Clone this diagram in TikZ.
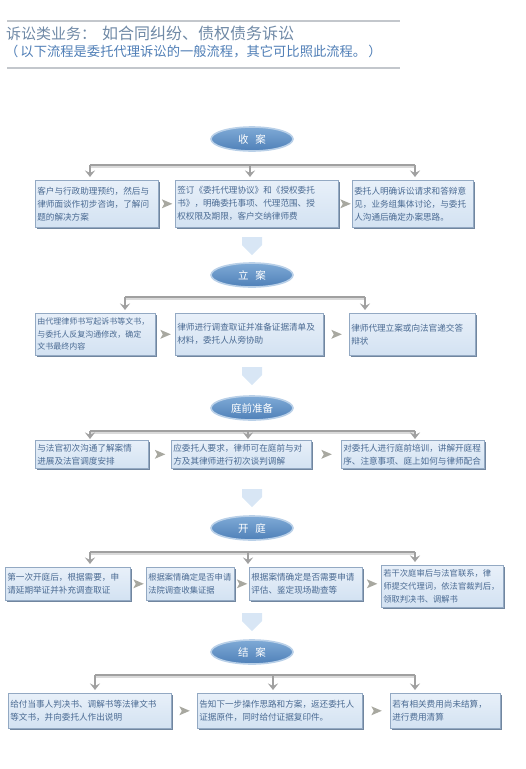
\documentclass[tikz,border=0pt]{standalone}
\usepackage{fontspec}
\setmainfont{Noto Sans CJK SC}
\usetikzlibrary{arrows.meta,shapes.geometric,shapes.arrows,calc,shadows}
\definecolor{boxtop}{HTML}{E8F0F9}
\definecolor{boxbot}{HTML}{D3E2F2}
\definecolor{boxline}{HTML}{93A9C3}
\definecolor{boxshadow}{HTML}{71869F}
\definecolor{boxtext}{HTML}{4A6A92}
\definecolor{elltop}{HTML}{7FAAD6}
\definecolor{ellbot}{HTML}{4F80B8}
\definecolor{ellring}{HTML}{B9D0E8}
\definecolor{conn}{HTML}{A0A0A0}
\definecolor{connshade}{HTML}{DADADA}
\definecolor{sidearrow}{HTML}{A8A8A0}
\definecolor{flowcol}{HTML}{D8E6F5}
\definecolor{titlecol}{HTML}{6F89A6}
\definecolor{subcol}{HTML}{4F7EB6}
\definecolor{rulecol}{HTML}{C3C7CC}
\newcommand\rarrowmark[1]{\fill[sidearrow] ($(#1)+(-5,-4.5)$) -- ($(#1)+(5.5,0)$) -- ($(#1)+(-5,4.5)$) -- ($(#1)+(-2.5,0)$) -- cycle;}
\tikzset{
  infobox/.style={rectangle, draw=boxline, line width=0.6pt, top color=boxtop, bottom color=boxbot,
    text=boxtext, align=left, inner xsep=2pt, inner ysep=2pt, anchor=north west,
    font=\fontsize{8.6}{13}\selectfont,
    drop shadow={shadow xshift=1.6pt, shadow yshift=-1.6pt, fill=boxshadow, opacity=1}},
  stage/.style={ellipse, minimum width=82pt, minimum height=24pt, inner sep=0pt,
    top color=elltop, bottom color=ellbot, draw=ellring, line width=1.6pt,
    text=white, font=\fontsize{10.5}{12}\selectfont},
  bar/.style={line width=1.8pt, draw=conn},
  barshade/.style={line width=1.4pt, draw=connshade},
  drop/.style={line width=2pt, draw=conn, -{Stealth[length=6.5pt, width=10pt, inset=2.5pt]}},
  flowarrow/.style={single arrow, draw=none, fill=flowcol, rotate=-90,
    minimum height=18pt, minimum width=20pt, single arrow head extend=0pt, inner sep=0pt},
  rulestyle/.style={line width=1.2pt, draw=rulecol}
}
\begin{document}
\begin{tikzpicture}[x=1pt,y=-1pt]
\useasboundingbox (0,0) rectangle (526,769);
% header
\coordinate (h1l) at (7,21); \coordinate (h1r) at (400,21);
\coordinate (h2l) at (7,68); \coordinate (h2r) at (400,68);
\draw[rulestyle] (h1l) -- (h1r);
\draw[rulestyle] (h2l) -- (h2r);
\node[anchor=west, inner sep=0pt, text=titlecol] (title) at (6,33)
  {\fontsize{15}{18}\selectfont 诉讼类业务：\hspace{6pt}\fontsize{16}{18}\selectfont 如合同纠纷、债权债务诉讼};
\node[anchor=west, inner sep=0pt, text=subcol] (subtitle) at (5,52)
  {\fontsize{13.3}{15}\selectfont （\hspace{2pt}以下流程是委托代理诉讼的一般流程，其它可比照此流程。\hspace{2pt}）};

% ===== stage 1
\node[stage] (s1) at (252,139) {收\hspace{7pt}案};
\node[infobox, minimum width=123pt, text width=119pt, minimum height=47pt] (b11) at (35,180)
  {客户与行政助理预约，然后与\\律师面谈作初步咨询，了解问\\题的解决方案};
\node[infobox, minimum width=163pt, text width=159pt, minimum height=47pt] (b12) at (175,180)
  {签订《委托代理协议》和《授权委托\\书》，明确委托事项、代理范围、授\\权权限及期限，客户交纳律师费};
\node[infobox, minimum width=121pt, text width=117pt, minimum height=47pt] (b13) at (352,180)
  {委托人明确诉讼请求和答辩意\\见，业务组集体讨论，与委托\\人沟通后确定办案思路。};
\coordinate (c1a) at (90,165); \coordinate (c1b) at (250,165); \coordinate (c1c) at (415,165);
\draw[barshade] ($(c1a)+(0,1.8)$) -- ($(c1c)+(0,1.8)$);
\draw[bar] (c1a) -- (c1c);
\draw[drop, shorten >=3pt] (c1a) -- (c1a |- b11.north);
\draw[drop, shorten >=3pt] (c1b) -- (c1b |- b12.north);
\draw[drop, shorten >=3pt] (c1c) -- (c1c |- b13.north);
\path (b11.east) -- (b12.west) coordinate[midway] (m11);
\path (b12.east) -- (b13.west) coordinate[midway] (m12);
\rarrowmark{m11}\rarrowmark{m12}
\node[flowarrow] (f1) at (252,241) {};

% ===== stage 2
\node[stage] (s2) at (252,275) {立\hspace{7pt}案};
\node[infobox, minimum width=120pt, text width=116pt, minimum height=42pt, font=\fontsize{8.0}{12.5}\selectfont] (b21) at (35,313)
  {由代理律师书写起诉书等文书，\\与委托人反复沟通修改，确定\\文书最终内容};
\node[infobox, minimum width=148pt, text width=144pt, minimum height=42pt] (b22) at (175,313)
  {律师进行调查取证并准备证据清单及\\材料，委托人从旁协助};
\node[infobox, minimum width=126pt, text width=122pt, minimum height=42pt] (b23) at (349,313)
  {律师代理立案或向法官递交答\\辩状};
\coordinate (c2a) at (125,297); \coordinate (c2c) at (365,297);
\draw[barshade] ($(c2a)+(0,1.8)$) -- ($(c2c)+(0,1.8)$);
\draw[bar] (c2a) -- (c2c);
\draw[drop, shorten >=3pt] (c2a) -- (c2a |- b21.north);
\draw[drop, shorten >=3pt] (c2c) -- (c2c |- b23.north);
\path (b21.east) -- (b22.west) coordinate[midway] (m21);
\path (b22.east) -- (b23.west) coordinate[midway] (m22);
\rarrowmark{m21}\rarrowmark{m22}
\node[flowarrow] (f2) at (252,371) {};

% ===== stage 3
\node[stage] (s3) at (252,408) {庭前准备};
\node[infobox, minimum width=113pt, text width=109pt, minimum height=28pt] (b31) at (35,440)
  {与法官初次沟通了解案情\\进展及法官调度安排};
\node[infobox, minimum width=140pt, text width=136pt, minimum height=28pt] (b32) at (171,440)
  {应委托人要求，律师可在庭前与对\\方及其律师进行初次谈判调解};
\node[infobox, minimum width=143pt, text width=139pt, minimum height=28pt] (b33) at (341,440)
  {对委托人进行庭前培训，讲解开庭程\\序、注意事项、庭上如何与律师配合};
\coordinate (c3a) at (90,431); \coordinate (c3b) at (248,431); \coordinate (c3c) at (415,431);
\draw[barshade] ($(c3a)+(0,1.8)$) -- ($(c3c)+(0,1.8)$);
\draw[bar] (c3a) -- (c3c);
\draw[drop, shorten >=1pt] (c3a) -- (c3a |- b31.north);
\draw[drop, shorten >=1pt] (c3b) -- (c3b |- b32.north);
\draw[drop, shorten >=1pt] (c3c) -- (c3c |- b33.north);
\path (b31.east) -- (b32.west) coordinate[midway] (m31);
\path (b32.east) -- (b33.west) coordinate[midway] (m32);
\rarrowmark{m31}\rarrowmark{m32}
\node[flowarrow] (f3) at (252,493) {};

% ===== stage 4
\node[stage] (s4) at (252,528) {开\hspace{7pt}庭};
\node[infobox, minimum width=125pt, text width=121pt, minimum height=33pt] (b41) at (5,567)
  {第一次开庭后，根据需要，申\\请延期举证并补充调查取证};
\node[infobox, minimum width=88pt, text width=84pt, minimum height=33pt, font=\fontsize{8.3}{13}\selectfont] (b42) at (146,567)
  {根据案情确定是否申请\\法院调查收集证据};
\node[infobox, minimum width=113pt, text width=109pt, minimum height=33pt] (b43) at (249,567)
  {根据案情确定是否需要申请\\评估、鉴定现场勘查等};
\node[infobox, minimum width=122pt, text width=118pt, minimum height=42pt, font=\fontsize{8.3}{13}\selectfont] (b44) at (381,565)
  {若干次庭审后与法官联系，律\\师提交代理词，依法官裁判后，\\领取判决书、调解书};
\coordinate (c4a) at (90,552); \coordinate (c4b) at (248,552); \coordinate (c4c) at (415,552);
\draw[barshade] ($(c4a)+(0,1.8)$) -- ($(c4c)+(0,1.8)$);
\draw[bar] (c4a) -- (c4c);
\draw[drop, shorten >=3pt] (c4a) -- (c4a |- b41.north);
\draw[drop, shorten >=3pt] (c4b) -- (c4b |- b42.north);
\draw[drop, shorten >=3pt] (c4c) -- (c4c |- b44.north);
\path (b41.east) -- (b42.west) coordinate[midway] (m41);
\path (b42.east) -- (b43.west) coordinate[midway] (m42);
\path (b43.east) -- (b43.east -| b44.west) coordinate[midway] (m43);
\rarrowmark{m41}\rarrowmark{m42}\rarrowmark{m43}
\node[flowarrow] (f4) at (252,617) {};

% ===== stage 5
\node[stage] (s5) at (252,652) {结\hspace{7pt}案};
\node[infobox, minimum width=163pt, text width=159pt, minimum height=35pt] (b51) at (8,693)
  {给付当事人判决书、调解书等法律文书\\等文书，并向委托人作出说明};
\node[infobox, minimum width=165pt, text width=161pt, minimum height=35pt] (b52) at (197,693)
  {告知下一步操作思路和方案，返还委托人\\证据原件，同时给付证据复印件。};
\node[infobox, minimum width=110pt, text width=106pt, minimum height=35pt] (b53) at (390,693)
  {若有相关费用尚未结算，\\进行费用清算};
\coordinate (c5a) at (95,675); \coordinate (c5b) at (273,675); \coordinate (c5c) at (415,675);
\draw[barshade] ($(c5a)+(0,1.8)$) -- ($(c5c)+(0,1.8)$);
\draw[bar] (c5a) -- (c5c);
\draw[drop, shorten >=3pt] (c5a) -- (c5a |- b51.north);
\draw[drop, shorten >=3pt] (c5b) -- (c5b |- b52.north);
\draw[drop, shorten >=3pt] (c5c) -- (c5c |- b53.north);
\path (b51.east) -- (b52.west) coordinate[midway] (m51);
\path (b52.east) -- (b53.west) coordinate[midway] (m52);
\rarrowmark{m51}\rarrowmark{m52}
\end{tikzpicture}
\end{document}
